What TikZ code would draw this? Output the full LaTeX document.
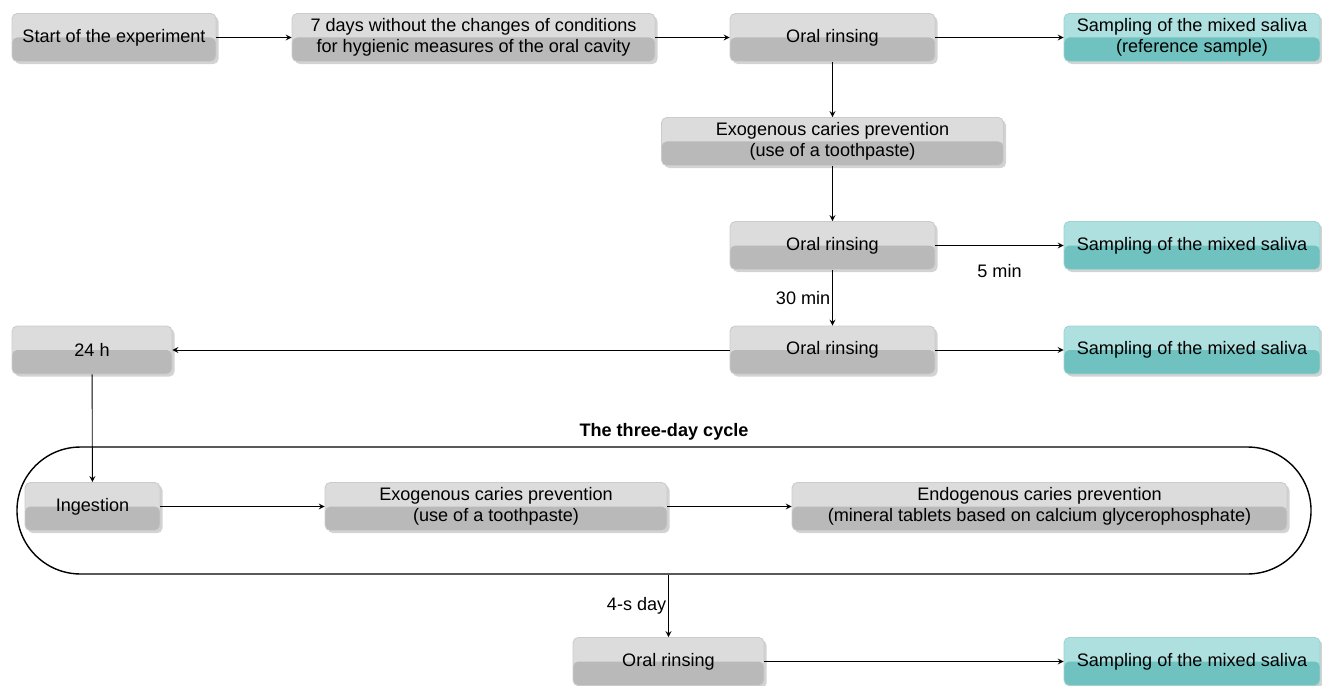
\documentclass[tikz,border=0pt]{standalone}
\usepackage{fontspec}
\setmainfont{Liberation Sans}
\usetikzlibrary{arrows,shadows,shapes.misc}

\definecolor{boxtop}{HTML}{DCDCDC}
\definecolor{boxbot}{HTML}{B9B9B9}
\definecolor{boxrim}{HTML}{CBCBCB}
\definecolor{teatop}{HTML}{ADE0DF}
\definecolor{teabot}{HTML}{70C2C0}
\definecolor{tearim}{HTML}{9ED3D2}

\begin{document}
\begin{tikzpicture}[x=0.02cm,y=-0.02cm,>=stealth,line width=0.5pt,
      font=\fontsize{10.3}{12.2}\selectfont,
      stepbox/.style={draw=boxrim,fill=boxtop,rounded corners=3pt,align=center,
        minimum height=0.96cm,inner sep=2pt,
        drop shadow={opacity=0.35,shadow xshift=1.5pt,shadow yshift=-1.5pt},
        path picture={\fill[boxbot] (path picture bounding box.west) rectangle (path picture bounding box.south east);}},
      sample/.style={stepbox,draw=tearim,fill=teatop,
        path picture={\fill[teabot] (path picture bounding box.west) rectangle (path picture bounding box.south east);}}]
    \useasboundingbox (0,0) rectangle (1322,686);
    % first row
    \node[stepbox,minimum width=4.08cm] (start) at (114,37.5) {Start of the experiment};
    \node[stepbox,minimum width=7.26cm] (seven) at (473.5,37.5) {7 days without the changes of conditions\\for hygienic measures of the oral cavity};
    \node[stepbox,minimum width=4.1cm] (rinse1) at (832.5,37.5) {Oral rinsing};
    \node[sample,minimum width=5.12cm] (ref) at (1192,37.5) {Sampling of the mixed saliva\\(reference sample)};
    \draw[->] (start) -- (seven);
    \draw[->] (seven) -- (rinse1);
    \draw[->] (rinse1) -- (ref);
    % middle column
    \node[stepbox,minimum width=6.84cm] (exo1) at (832.5,141.5) {Exogenous caries prevention\\(use of a toothpaste)};
    \node[stepbox,minimum width=4.1cm] (rinse2) at (832.5,245.5) {Oral rinsing};
    \node[sample,minimum width=5.12cm] (samp2) at (1192,245.5) {Sampling of the mixed saliva};
    \node[stepbox,minimum width=4.1cm] (rinse3) at (832.5,350) {Oral rinsing};
    \node[sample,minimum width=5.12cm] (samp3) at (1192,350) {Sampling of the mixed saliva};
    \node[stepbox,minimum width=3.2cm] (day) at (92,350) {24 h};
    \draw[->] (rinse1) -- (exo1);
    \draw[->] (exo1) -- (rinse2);
    \draw[->] (rinse2) -- node[below=7pt] {5 min} (samp2);
    \draw[->] (rinse2) -- node[left,inner sep=1pt] {30 min} (rinse3);
    \draw[->] (rinse3) -- (samp3);
    \draw[->] (rinse3) -- (day);
    % the cycle
    \node[draw,line width=0.8pt,rounded rectangle,minimum width=26.12cm,minimum height=2.54cm,
      label={[font=\fontsize{10.3}{12.2}\selectfont\bfseries,label distance=0pt]above:The three-day cycle}] (cycle) at (664,510.5) {};
    \node[stepbox,minimum width=2.7cm] (ingest) at (92.5,506.5) {Ingestion};
    \node[stepbox,minimum width=6.84cm] (exo2) at (496,506.5) {Exogenous caries prevention\\(use of a toothpaste)};
    \node[stepbox,minimum width=9.9cm] (endo) at (1039.5,506.5) {Endogenous caries prevention\\(mineral tablets based on calcium glycerophosphate)};
    \draw[->] (day) -- (ingest);
    \draw[->] (ingest) -- (exo2);
    \draw[->] (exo2) -- (endo);
    % last row
    \node[stepbox,minimum width=3.82cm] (rinse4) at (668.5,661.5) {Oral rinsing};
    \node[sample,minimum width=5.12cm] (samp4) at (1192,661.5) {Sampling of the mixed saliva};
    \draw[->] (rinse4.north |- cycle.south) -- node[left,inner sep=1pt] {4-s day} (rinse4.north);
    \draw[->] (rinse4) -- (samp4);
  \end{tikzpicture}
\end{document}
